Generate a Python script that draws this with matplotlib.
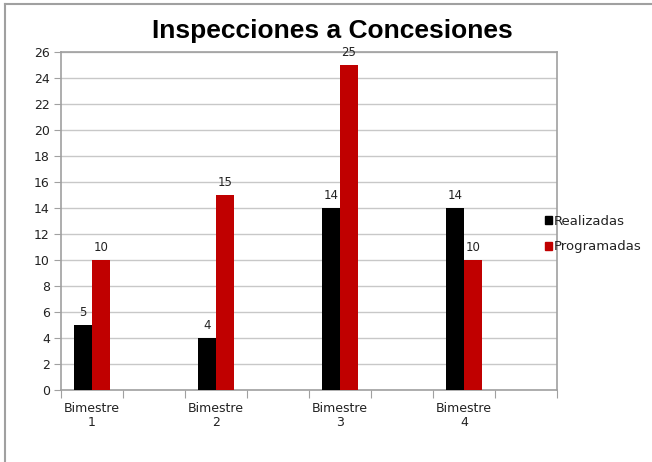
import matplotlib

matplotlib.use("Agg")
import matplotlib.pyplot as plt
from matplotlib.lines import Line2D
from matplotlib.patches import Rectangle

plt.rcParams["font.family"] = ["DejaVu Sans"]

TITLE = "Inspecciones a Concesiones"
CATEGORIES = ["Bimestre\n1", "Bimestre\n2", "Bimestre\n3", "Bimestre\n4"]
SERIES = ["Realizadas", "Programadas"]
REALIZADAS = [5, 4, 14, 14]
PROGRAMADAS = [10, 15, 25, 10]

BLACK = "#000000"
RED = "#c00000"
GRID = "#c8c8c8"
FRAME = "#a0a0a0"
TXT = "#222222"

fig = plt.figure(figsize=(6.52, 4.62), dpi=100)
ax = fig.add_axes((61 / 652, 72 / 462, 496 / 652, 338 / 462))

# categories sit on every other slot of an 8-slot axis
slots = [2 * i for i in range(len(CATEGORIES))]
w = 0.29
b1 = ax.bar([s - w / 2 for s in slots], REALIZADAS, w, color=BLACK, zorder=3)
b2 = ax.bar([s + w / 2 for s in slots], PROGRAMADAS, w, color=RED, zorder=3)
for bars in (b1, b2):
    ax.bar_label(bars, padding=4, fontsize=8.5, color=TXT)

ax.set_xlim(-0.5, 7.5)
ax.set_ylim(0, 26)
ax.set_yticks(range(0, 27, 2))
ax.set_xticks([x - 0.5 for x in range(9)], minor=False)
ax.set_xticklabels([])
ax.set_xticks(slots, minor=True)
ax.set_xticklabels(CATEGORIES, minor=True, fontsize=9, color=TXT, linespacing=1.1)
ax.tick_params(axis="x", which="minor", length=0, pad=9)
ax.tick_params(axis="x", which="major", length=6, color=FRAME)
ax.tick_params(axis="y", length=5, color=FRAME, labelsize=9, labelcolor=TXT, pad=3)
ax.yaxis.grid(True, color=GRID, lw=1, zorder=0)
for sp in ax.spines.values():
    sp.set_color(FRAME)
    sp.set_linewidth(1.2)

fig.text(332 / 652, 1 - 31 / 462, TITLE, ha="center", va="center",
         fontsize=19, fontweight="bold", family="Liberation Sans")

handles = [Rectangle((0, 0), 1, 1, color=BLACK), Rectangle((0, 0), 1, 1, color=RED)]
fig.legend(handles, SERIES, loc="center left",
           bbox_to_anchor=(545 / 652, 1 - 234 / 462), frameon=False,
           fontsize=9.5, labelcolor=TXT, handlelength=0.55, handleheight=0.55,
           handletextpad=0.15, labelspacing=0.95, borderaxespad=0, borderpad=0)

# outer chart frame (top and left edges visible)
fig.add_artist(Line2D([5 / 652, 1], [1 - 4 / 462, 1 - 4 / 462], color=FRAME, lw=1.5))
fig.add_artist(Line2D([5 / 652, 5 / 652], [0, 1 - 4 / 462], color=FRAME, lw=1.5))

fig.savefig("out.png", dpi=100)
